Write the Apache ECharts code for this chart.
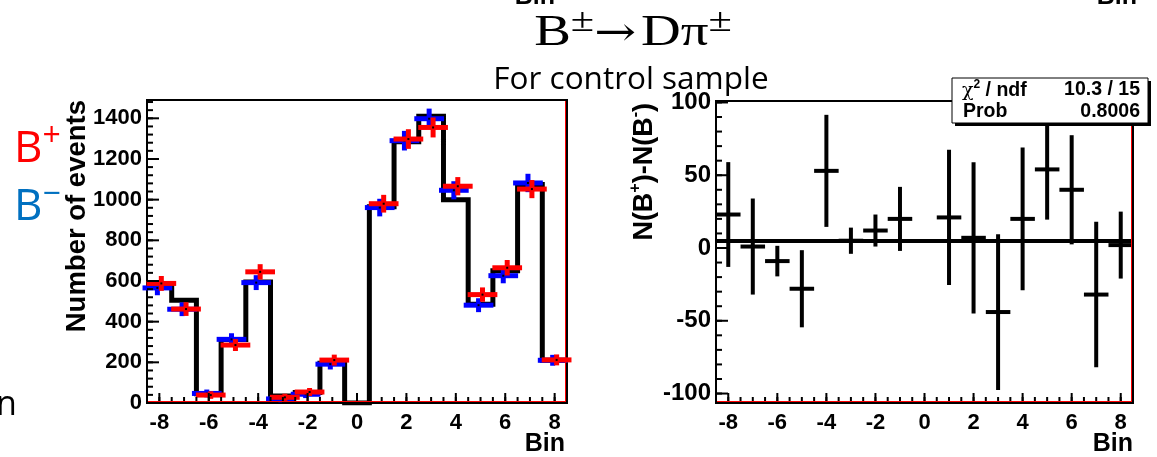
<!DOCTYPE html>
<html>
<head>
<meta charset="utf-8">
<script src="https://cdn.jsdelivr.net/npm/echarts@6/dist/echarts.min.js"></script>
<style>
  html, body { margin: 0; padding: 0; background: #fff; }
  #chart { width: 1157px; height: 457px; }
</style>
</head>
<body>
<div id="chart"></div>
<script>
// bin centres and values
var bins = [-8, -7, -6, -5, -4, -3, -2, -1, 0, 1, 2, 3, 4, 5, 6, 7, 8];
var histCounts = [575, 505, 45, 312, 595, 35, 52, 195, 0, 965, 1285, 1410, 1000, 485, 650, 1075, 210];
var bPlus  = [588, 462, 39, 285, 645, 28, 54, 211, null, 980, 1298, 1355, 1066, 533, 665, 1052, 212];
var bMinus = [566, 461, 47, 313, 592, 20, 43, 191, null, 961, 1290, 1398, 1046, 481, 626, 1082, 210];
var diffVals = [23, 1, -9, -28, 53, 5, 12, 20, null, 21, 7, -44, 20, 54, 40, -32, 2];
var diffErrs = [36, 33, 10.5, 26.5, 38.5, 9, 11, 22, null, 46.5, 52, 53.5, 49, 34.5, 37.5, 50, 23];
var fitValue = 4.8;

var binTicks = [-8, -6, -4, -2, 0, 2, 4, 6, 8];
var countTicks = [0, 200, 400, 600, 800, 1000, 1200, 1400];
var diffTicks = [-100, -50, 0, 50, 100];
var chi2Text = '10.3 / 15';
var probText = '0.8006';

// axis ranges of the two pads
var X_RANGE = [-8.5, 8.5];
var COUNT_RANGE = [0, 1490];
var DIFF_RANGE = [-106.5, 101];

function steps(from, to, step) {
    var out = [];
    for (var v = from; v <= to + 1e-9; v += step) out.push(Math.round(v * 100) / 100);
    return out;
}

var FONT = 'Liberation Sans';
var plain = function (v) { return String(v); };

function binAxis(gridIndex, fontSize) {
    return {
        gridIndex: gridIndex, type: 'value', position: 'bottom', min: X_RANGE[0], max: X_RANGE[1],
        axisLine: { show: false, onZero: false }, splitLine: { show: false }, axisTick: { show: false },
        axisLabel: { show: true, customValues: binTicks, formatter: plain, fontSize: fontSize, fontFamily: FONT, fontWeight: 'bold', color: '#000', margin: 9 }
    };
}

function valueAxis(gridIndex, range, major, fontSize) {
    return {
        gridIndex: gridIndex, type: 'value', position: 'left', min: range[0], max: range[1],
        axisLine: { show: false, onZero: false }, splitLine: { show: false }, axisTick: { show: false },
        axisLabel: { show: true, customValues: major, formatter: plain, fontSize: fontSize, fontFamily: FONT, fontWeight: 'bold', color: '#000', margin: 5 }
    };
}

// histogram outline built from bin edges
var histSteps = [];
for (var i = 0; i < bins.length; i++) {
    histSteps.push([bins[i] - 0.5, histCounts[i]]);
    histSteps.push([bins[i] + 0.5, histCounts[i]]);
}

function countCross(values, color, shift) {
    return {
        type: 'custom', xAxisIndex: 0, yAxisIndex: 0, z: 3,
        data: bins.map(function (b, k) { return [b + shift, values[k]]; })
                  .filter(function (d) { return d[1] !== null; }),
        renderItem: function (params, api) {
            var x = api.value(0), y = api.value(1), e = Math.sqrt(y);
            var l = api.coord([x - 0.5, y]), r = api.coord([x + 0.5, y]);
            var t = api.coord([x, y + e]), b = api.coord([x, y - e]), c = api.coord([x, y]);
            var st = { stroke: color, lineWidth: 5, lineCap: 'square' };
            return {
                type: 'group', children: [
                    { type: 'line', shape: { x1: l[0], y1: l[1], x2: r[0], y2: r[1] }, style: st },
                    { type: 'line', shape: { x1: t[0], y1: t[1], x2: b[0], y2: b[1] }, style: st },
                    { type: 'rect', shape: { x: c[0] - 1, y: c[1] - 1, width: 2, height: 2 }, style: { fill: '#000' } }
                ]
            };
        }
    };
}

var diffData = [];
for (var j = 0; j < bins.length; j++) {
    if (diffVals[j] !== null) diffData.push([bins[j], diffVals[j], diffErrs[j]]);
}

var txt = function (o) { o.z = 20; return o; };

var option = {
    animation: false,
    backgroundColor: '#fff',
    grid: [
        { left: 147, top: 100, width: 420, height: 303, show: true, borderColor: '#000', borderWidth: 2,
          containLabel: false, outerBoundsMode: 'none' },
        { left: 716, top: 101, width: 417, height: 302, show: true, borderColor: '#000', borderWidth: 2,
          containLabel: false, outerBoundsMode: 'none' }
    ],
    xAxis: [binAxis(0, 22), binAxis(1, 22)],
    yAxis: [valueAxis(0, COUNT_RANGE, countTicks, 22), valueAxis(1, DIFF_RANGE, diffTicks, 24)],
    series: [
        {
            type: 'line', xAxisIndex: 0, yAxisIndex: 0, data: histSteps, symbol: 'none', z: 2,
            lineStyle: { color: '#000', width: 5, join: 'miter' }
        },
        countCross(bMinus, '#0000ff', -0.08),
        countCross(bPlus, '#ff0000', 0.08),
        {
            type: 'line', xAxisIndex: 1, yAxisIndex: 1, data: [[X_RANGE[0], fitValue], [X_RANGE[1], fitValue]],
            symbol: 'none', z: 2, lineStyle: { color: '#000', width: 4 }
        },
        {
            type: 'custom', xAxisIndex: 1, yAxisIndex: 1, z: 3, data: diffData,
            renderItem: function (params, api) {
                var x = api.value(0), y = api.value(1), e = api.value(2);
                var l = api.coord([x - 0.5, y]), r = api.coord([x + 0.5, y]);
                var t = api.coord([x, y + e]), b = api.coord([x, y - e]);
                var st = { stroke: '#000', lineWidth: 4 };
                return {
                    type: 'group', children: [
                        { type: 'line', shape: { x1: l[0], y1: l[1], x2: r[0], y2: r[1] }, style: st },
                        { type: 'line', shape: { x1: t[0], y1: t[1], x2: b[0], y2: b[1] }, style: st }
                    ]
                };
            }
        }
    ],
    graphic: [
        // clipped axis titles of the pads above
        txt({ type: 'text', x: 555, y: 10, style: { text: 'Bin', fontFamily: FONT, fontWeight: 'bold', fontSize: 25, fill: '#000', align: 'right', verticalAlign: 'bottom' } }),
        txt({ type: 'text', x: 1137, y: 10, style: { text: 'Bin', fontFamily: FONT, fontWeight: 'bold', fontSize: 25, fill: '#000', align: 'right', verticalAlign: 'bottom' } }),
        // title
        txt({ type: 'text', x: 633, y: 30, scaleX: 1.25, style: {
            text: '{m|B}{s|±}{a|→}{m|Dπ}{s|±}', align: 'center', verticalAlign: 'middle',
            rich: {
                m: { fontFamily: 'Liberation Serif', fontSize: 44, fill: '#000', lineHeight: 50, verticalAlign: 'bottom' },
                a: { fontFamily: 'DejaVu Serif', fontSize: 40, fill: '#000', lineHeight: 50, verticalAlign: 'bottom', padding: [0, 4, 0, 0] },
                s: { fontFamily: 'Liberation Serif', fontSize: 34, fill: '#000', lineHeight: 34, verticalAlign: 'top' }
            }
        } }),
        txt({ type: 'text', x: 631, y: 80, style: { text: 'For control sample', fontFamily: 'Open Sans', fontSize: 31.5, fill: '#000', align: 'center', verticalAlign: 'middle' } }),
        // legend
        txt({ type: 'text', x: 14, y: 146, style: {
            text: '{m|B}{s|+}', verticalAlign: 'middle',
            rich: {
                m: { fontFamily: 'Open Sans', fontSize: 44, fill: '#ff0000', lineHeight: 50, verticalAlign: 'bottom' },
                s: { fontFamily: 'Open Sans', fontSize: 32, fill: '#ff0000', lineHeight: 32, verticalAlign: 'top' }
            }
        } }),
        txt({ type: 'text', x: 14, y: 204, style: {
            text: '{m|B}{s|−}', verticalAlign: 'middle',
            rich: {
                m: { fontFamily: 'Open Sans', fontSize: 44, fill: '#0070c0', lineHeight: 50, verticalAlign: 'bottom' },
                s: { fontFamily: 'Open Sans', fontSize: 32, fill: '#0070c0', lineHeight: 32, verticalAlign: 'top' }
            }
        } }),
        txt({ type: 'text', x: -4, y: 405, style: { text: 'n', fontFamily: 'Open Sans', fontSize: 34, fill: '#000', verticalAlign: 'middle' } }),
        // axis titles
        txt({ type: 'text', x: 77, y: 100, rotation: Math.PI / 2, style: { text: 'Number of events', fontFamily: FONT, fontWeight: 'bold', fontSize: 27.5, fill: '#000', align: 'right', verticalAlign: 'middle' } }),
        txt({ type: 'text', x: 643, y: 103, rotation: Math.PI / 2, style: {
            text: '{n|N(B}{s|+}{n|)-N(B}{s|-}{n|)}', align: 'right', verticalAlign: 'middle',
            rich: {
                n: { fontFamily: FONT, fontWeight: 'bold', fontSize: 27, fill: '#000', lineHeight: 30, verticalAlign: 'bottom' },
                s: { fontFamily: FONT, fontWeight: 'bold', fontSize: 16, fill: '#000', lineHeight: 16, verticalAlign: 'top' }
            }
        } }),
        txt({ type: 'text', x: 565, y: 444, style: { text: 'Bin', fontFamily: FONT, fontWeight: 'bold', fontSize: 25, fill: '#000', align: 'right', verticalAlign: 'middle' } }),
        txt({ type: 'text', x: 1133, y: 444, style: { text: 'Bin', fontFamily: FONT, fontWeight: 'bold', fontSize: 25, fill: '#000', align: 'right', verticalAlign: 'middle' } }),
        // fit statistics box
        txt({ type: 'rect', shape: { x: 955, y: 81, width: 196, height: 45 }, style: { fill: '#000' } }),
        txt({ type: 'rect', shape: { x: 952, y: 78, width: 196, height: 45 }, style: { fill: '#fff', stroke: '#000', lineWidth: 1 } }),
        txt({ type: 'text', x: 962, y: 90, style: {
            text: '{g|χ}{p|2}{b| / ndf}', verticalAlign: 'middle',
            rich: {
                g: { fontFamily: 'DejaVu Serif', fontSize: 19, fill: '#000', verticalAlign: 'bottom', lineHeight: 22 },
                p: { fontFamily: FONT, fontWeight: 'bold', fontSize: 12, fill: '#000', verticalAlign: 'top', lineHeight: 12 },
                b: { fontFamily: FONT, fontWeight: 'bold', fontSize: 19.5, fill: '#000', verticalAlign: 'bottom', lineHeight: 22 }
            }
        } }),
        txt({ type: 'text', x: 1140, y: 90, style: { text: chi2Text, fontFamily: FONT, fontWeight: 'bold', fontSize: 19.5, fill: '#000', align: 'right', verticalAlign: 'middle' } }),
        txt({ type: 'text', x: 963, y: 112, style: { text: 'Prob', fontFamily: FONT, fontWeight: 'bold', fontSize: 19.5, fill: '#000', verticalAlign: 'middle' } }),
        txt({ type: 'text', x: 1140, y: 112, style: { text: probText, fontFamily: FONT, fontWeight: 'bold', fontSize: 19.5, fill: '#000', align: 'right', verticalAlign: 'middle' } })
    ]
};

var chart = echarts.init(document.getElementById('chart'));
chart.setOption(option);

// inward ticks and red inner edges, placed through the pads' own scales
function px(pad, x, y) {
    return chart.convertToPixel({ xAxisIndex: pad, yAxisIndex: pad }, [x, y]);
}
function bar(x, y, w, h, color) {
    return { type: 'rect', z: 15, shape: { x: x, y: y, width: w, height: h }, style: { fill: color } };
}
var frame = [];
function addFrame(pad, yRange, yMajor, yMinor) {
    binTicks.forEach(function (v) { var p = px(pad, v, yRange[0]); frame.push(bar(p[0] - 1, p[1] - 10, 2, 10, '#000')); });
    steps(-8.5, 8.5, 0.5).forEach(function (v) { var p = px(pad, v, yRange[0]); frame.push(bar(p[0] - 1, p[1] - 6, 2, 6, '#000')); });
    yMajor.forEach(function (v) { var p = px(pad, X_RANGE[0], v); frame.push(bar(p[0], p[1] - 1, 12, 2, '#000')); });
    yMinor.forEach(function (v) { var p = px(pad, X_RANGE[0], v); frame.push(bar(p[0], p[1] - 1, 6, 2, '#000')); });
    var lb = px(pad, X_RANGE[0], yRange[0]);
    var rb = px(pad, X_RANGE[1], yRange[0]);
    var rt = px(pad, X_RANGE[1], yRange[1]);
    frame.push(bar(lb[0] + 1, rb[1] - 2, rb[0] - lb[0] - 2, 1, '#f00'));
    frame.push(bar(rb[0] - 2, rt[1] + 1, 1, rb[1] - rt[1] - 2, '#f00'));
}
addFrame(0, COUNT_RANGE, countTicks, steps(0, 1480, 40));
addFrame(1, DIFF_RANGE, diffTicks, steps(-100, 100, 10));
chart.setOption({ graphic: option.graphic.concat(frame) });
</script>
</body>
</html>
